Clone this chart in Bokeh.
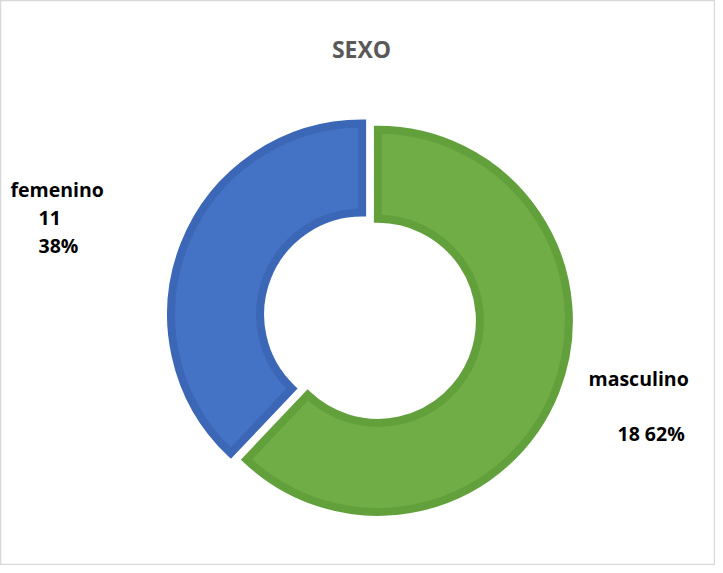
import math
from bokeh.plotting import figure
from bokeh.models import ColumnDataSource, Range1d
from bokeh.core.properties import value
from bokeh.embed import file_html
from bokeh.resources import INLINE

# ---- data ----
title_text = "SEXO"
categories = ["masculino", "femenino"]
counts = [18, 11]
fill_colors = ["#70AD47", "#4472C4"]
line_colors = ["#62A03C", "#3B67B6"]

W, H = 715, 565

def px(xp):
    return xp - 8

def py(yp):
    return (H + 8) - yp

total = sum(counts)
cx, cy = px(377.5), py(325.2)
R_out, R_in = 191, 102
explode = 8.5

starts, ends, xs, ys = [], [], [], []
cur = math.pi / 2
for c in counts:
    a = cur - c / total * 2 * math.pi
    mid = (a + cur) / 2
    starts.append(a)
    ends.append(cur)
    xs.append(cx + explode * math.cos(mid))
    ys.append(cy + explode * math.sin(mid))
    cur = a

pcts = [round(c / total * 100) for c in counts]

p = figure(width=W, height=H, output_backend="svg", toolbar_location=None,
           x_range=Range1d(0, W), y_range=Range1d(0, H),
           x_axis_type=None, y_axis_type=None, min_border=0,
           background_fill_color="white", border_fill_color="white")
p.grid.visible = False
p.outline_line_color = "#D9D9D9"
p.outline_line_width = 1.5

src = ColumnDataSource(dict(x=xs, y=ys, start=starts, end=ends,
                            fill=fill_colors, line=line_colors, cat=categories))
p.annular_wedge(x="x", y="y", inner_radius=R_in, outer_radius=R_out,
                start_angle="start", end_angle="end", direction="anticlock",
                fill_color="fill", line_color="line", line_width=8,
                line_join="miter", source=src)

# title
p.text(x=[px(369)], y=[py(56)], text=[title_text], text_align="center",
       text_baseline="alphabetic", text_font=value("Open Sans"),
       text_font_style="bold", text_font_size="23px", text_color="#595959")

# data labels
lbl_x = [px(596), px(625), px(18), px(46), px(46)]
lbl_y = [py(386), py(441), py(197), py(225), py(253)]
lbl_t = [categories[0], f"{counts[0]} {pcts[0]}%",
         categories[1], f"{counts[1]}", f"{pcts[1]}%"]
p.text(x=lbl_x, y=lbl_y, text=lbl_t, text_align="left",
       text_baseline="alphabetic", text_font=value("Open Sans"),
       text_font_style="bold", text_font_size="19.5px", text_color="#000000")

open("out.html", "w").write(file_html(p, INLINE))
